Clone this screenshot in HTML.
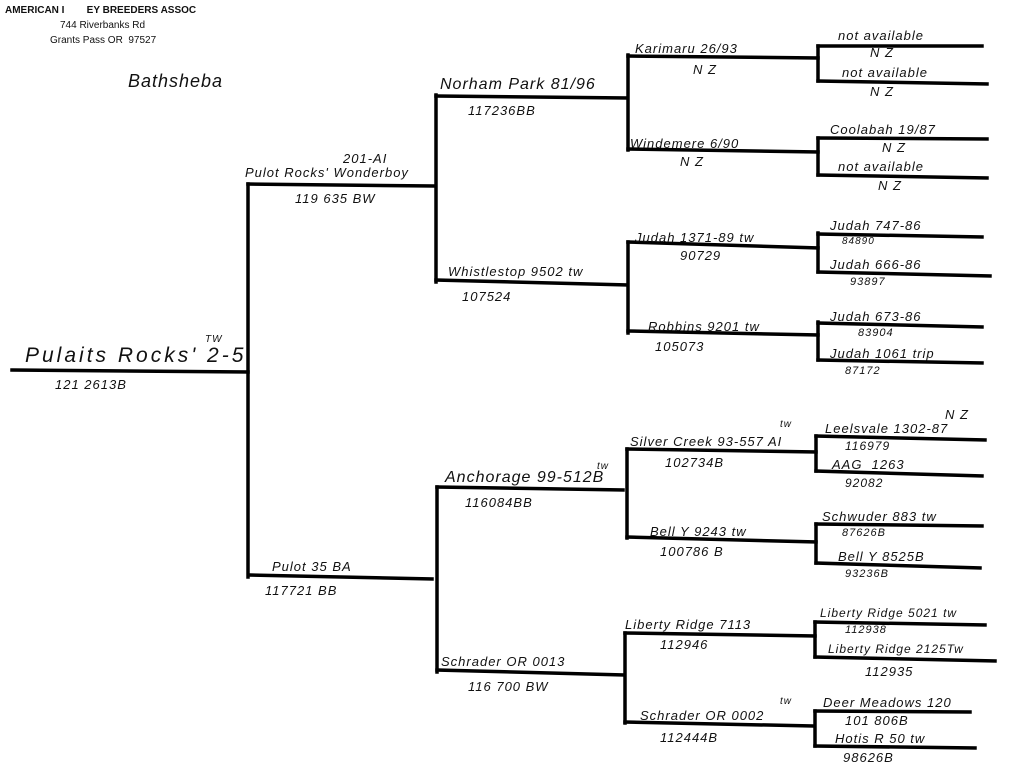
<!DOCTYPE html>
<html><head><meta charset="utf-8"><style>
html,body{margin:0;padding:0;background:#fff;}
body{width:1014px;height:768px;position:relative;overflow:hidden;font-family:"Liberation Sans",sans-serif;color:#111;}
.t{position:absolute;white-space:nowrap;font-style:italic;font-size:15px;line-height:1;letter-spacing:1px;}
.s{font-size:13px;}
.h{position:absolute;white-space:nowrap;font-weight:bold;font-size:10px;line-height:1;}
svg{position:absolute;left:0;top:0;}
</style></head><body>
<svg width="1014" height="768" viewBox="0 0 1014 768">
<g stroke="#000" stroke-width="3.5" fill="none" stroke-linecap="square">
<!-- gen0 -->
<line x1="12" y1="370" x2="248" y2="372"/>
<line x1="248" y1="184" x2="248" y2="577"/>
<line x1="248" y1="184" x2="433" y2="186"/>
<line x1="250" y1="575" x2="432" y2="579"/>
<!-- gen2 verticals -->
<line x1="436" y1="95" x2="436" y2="282"/>
<line x1="437" y1="487" x2="437" y2="672"/>
<line x1="436" y1="96" x2="627" y2="98"/>
<line x1="436" y1="280" x2="627" y2="285"/>
<line x1="437" y1="487" x2="623" y2="490"/>
<line x1="437" y1="670" x2="623" y2="675"/>
<!-- gen3 verticals -->
<line x1="628" y1="55" x2="628" y2="150"/>
<line x1="628" y1="242" x2="628" y2="333"/>
<line x1="627" y1="449" x2="627" y2="538"/>
<line x1="625" y1="633" x2="625" y2="723"/>
<line x1="628" y1="56" x2="818" y2="58"/>
<line x1="628" y1="149" x2="818" y2="152"/>
<line x1="628" y1="242" x2="818" y2="248"/>
<line x1="628" y1="331" x2="818" y2="335"/>
<line x1="627" y1="449" x2="816" y2="452"/>
<line x1="627" y1="537" x2="816" y2="542"/>
<line x1="625" y1="633" x2="815" y2="636"/>
<line x1="625" y1="722" x2="812" y2="726"/>
<!-- gen4 -->
<line x1="818" y1="46" x2="818" y2="81"/>
<line x1="818" y1="138" x2="818" y2="175"/>
<line x1="818" y1="233" x2="818" y2="272"/>
<line x1="818" y1="322" x2="818" y2="360"/>
<line x1="816" y1="436" x2="816" y2="471"/>
<line x1="816" y1="524" x2="816" y2="563"/>
<line x1="815" y1="622" x2="815" y2="657"/>
<line x1="815" y1="711" x2="815" y2="746"/>
<line x1="818" y1="46" x2="982" y2="46"/>
<line x1="818" y1="81" x2="987" y2="84"/>
<line x1="818" y1="138" x2="987" y2="139"/>
<line x1="818" y1="175" x2="987" y2="178"/>
<line x1="818" y1="234" x2="982" y2="237"/>
<line x1="818" y1="272" x2="990" y2="276"/>
<line x1="818" y1="323" x2="982" y2="327"/>
<line x1="818" y1="360" x2="982" y2="363"/>
<line x1="816" y1="436" x2="985" y2="440"/>
<line x1="816" y1="471" x2="982" y2="476"/>
<line x1="816" y1="524" x2="982" y2="526"/>
<line x1="816" y1="563" x2="980" y2="568"/>
<line x1="815" y1="622" x2="985" y2="625"/>
<line x1="815" y1="657" x2="995" y2="661"/>
<line x1="815" y1="711" x2="970" y2="712"/>
<line x1="815" y1="746" x2="975" y2="748"/>
</g>
</svg>
<div class="h" style="left:5px;top:6px;">AMERICAN I&nbsp;&nbsp;&nbsp;&nbsp;&nbsp;&nbsp;&nbsp;&nbsp;EY BREEDERS ASSOC</div>
<div class="h" style="left:60px;top:21px;font-weight:normal;">744 Riverbanks Rd</div>
<div class="h" style="left:50px;top:36px;font-weight:normal;">Grants Pass OR&nbsp; 97527</div>
<div class="t" style="left:128px;top:72px;font-size:18px;">Bathsheba</div>

<div class="t" style="left:25px;top:345px;font-size:21px;letter-spacing:3px;">Pulaits Rocks' 2-5</div>
<div class="t s" style="left:205px;top:335px;font-size:10px;">TW</div>
<div class="t s" style="left:55px;top:378px;">121 2613B</div>

<div class="t s" style="left:245px;top:166px;">Pulot Rocks' Wonderboy</div>
<div class="t s" style="left:343px;top:152px;">201-AI</div>
<div class="t s" style="left:295px;top:192px;">119 635 BW</div>
<div class="t s" style="left:272px;top:560px;">Pulot 35 BA</div>
<div class="t s" style="left:265px;top:584px;">117721 BB</div>

<div class="t" style="left:440px;top:77px;font-size:16px;">Norham Park 81/96</div>
<div class="t s" style="left:468px;top:104px;">117236BB</div>
<div class="t s" style="left:448px;top:265px;">Whistlestop 9502 tw</div>
<div class="t s" style="left:462px;top:290px;">107524</div>
<div class="t" style="left:445px;top:470px;font-size:16px;">Anchorage 99-512B</div>
<div class="t s" style="left:597px;top:462px;font-size:10px;">tw</div>
<div class="t s" style="left:465px;top:496px;">116084BB</div>
<div class="t s" style="left:441px;top:655px;">Schrader OR 0013</div>
<div class="t s" style="left:468px;top:680px;">116 700 BW</div>

<div class="t s" style="left:635px;top:42px;">Karimaru 26/93</div>
<div class="t s" style="left:693px;top:63px;">N Z</div>
<div class="t s" style="left:630px;top:137px;">Windemere 6/90</div>
<div class="t s" style="left:680px;top:155px;">N Z</div>
<div class="t s" style="left:635px;top:231px;">Judah 1371-89 tw</div>
<div class="t s" style="left:680px;top:249px;">90729</div>
<div class="t s" style="left:648px;top:320px;">Robbins 9201 tw</div>
<div class="t s" style="left:655px;top:340px;">105073</div>
<div class="t s" style="left:630px;top:435px;">Silver Creek 93-557 AI</div>
<div class="t s" style="left:780px;top:420px;font-size:10px;">tw</div>
<div class="t s" style="left:665px;top:456px;">102734B</div>
<div class="t s" style="left:650px;top:525px;">Bell Y 9243 tw</div>
<div class="t s" style="left:660px;top:545px;">100786 B</div>
<div class="t s" style="left:625px;top:618px;">Liberty Ridge 7113</div>
<div class="t s" style="left:660px;top:638px;">112946</div>
<div class="t s" style="left:640px;top:709px;">Schrader OR 0002</div>
<div class="t s" style="left:780px;top:697px;font-size:10px;">tw</div>
<div class="t s" style="left:660px;top:731px;">112444B</div>

<div class="t s" style="left:838px;top:29px;">not available</div>
<div class="t s" style="left:870px;top:46px;">N Z</div>
<div class="t s" style="left:842px;top:66px;">not available</div>
<div class="t s" style="left:870px;top:85px;">N Z</div>
<div class="t s" style="left:830px;top:123px;">Coolabah 19/87</div>
<div class="t s" style="left:882px;top:141px;">N Z</div>
<div class="t s" style="left:838px;top:160px;">not available</div>
<div class="t s" style="left:878px;top:179px;">N Z</div>
<div class="t s" style="left:830px;top:219px;">Judah 747-86</div>
<div class="t s" style="left:842px;top:237px;font-size:10px;">84890</div>
<div class="t s" style="left:830px;top:258px;">Judah 666-86</div>
<div class="t s" style="left:850px;top:277px;font-size:11px;">93897</div>
<div class="t s" style="left:830px;top:310px;">Judah 673-86</div>
<div class="t s" style="left:858px;top:328px;font-size:11px;">83904</div>
<div class="t s" style="left:830px;top:347px;">Judah 1061 trip</div>
<div class="t s" style="left:845px;top:366px;font-size:11px;">87172</div>
<div class="t s" style="left:825px;top:422px;">Leelsvale 1302-87</div>
<div class="t s" style="left:945px;top:408px;">N Z</div>
<div class="t s" style="left:845px;top:440px;font-size:12px;">116979</div>
<div class="t s" style="left:832px;top:458px;">AAG&nbsp; 1263</div>
<div class="t s" style="left:845px;top:477px;font-size:12px;">92082</div>
<div class="t s" style="left:822px;top:510px;">Schwuder 883 tw</div>
<div class="t s" style="left:842px;top:528px;font-size:11px;">87626B</div>
<div class="t s" style="left:838px;top:550px;">Bell Y 8525B</div>
<div class="t s" style="left:845px;top:569px;font-size:11px;">93236B</div>
<div class="t s" style="left:820px;top:607px;font-size:12px;">Liberty Ridge 5021 tw</div>
<div class="t s" style="left:845px;top:625px;font-size:11px;">112938</div>
<div class="t s" style="left:828px;top:643px;font-size:12px;">Liberty Ridge 2125Tw</div>
<div class="t s" style="left:865px;top:665px;">112935</div>
<div class="t s" style="left:823px;top:696px;">Deer Meadows 120</div>
<div class="t s" style="left:845px;top:714px;">101 806B</div>
<div class="t s" style="left:835px;top:732px;">Hotis R 50 tw</div>
<div class="t s" style="left:843px;top:751px;">98626B</div>
</body></html>
